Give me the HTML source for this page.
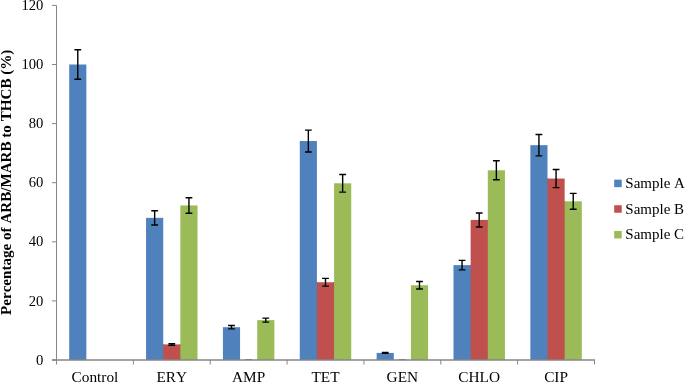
<!DOCTYPE html>
<html lang="en"><head><meta charset="utf-8"><title>Chart</title>
<style>html,body{margin:0;padding:0;background:#fff}svg{display:block}</style></head>
<body>
<svg width="685" height="383" viewBox="0 0 685 383" font-family="'Liberation Serif', 'Times New Roman', serif" font-size="15.33" fill="#000" style="font-kerning:none">
<rect width="685" height="383" fill="#fff"/>
<rect x="162.21" y="344.40" width="2" height="15.60" fill="#4f81bd"/>
<rect x="179.36" y="344.40" width="2" height="15.60" fill="#c0504d"/>
<rect x="315.92" y="282.28" width="2" height="77.72" fill="#4f81bd"/>
<rect x="333.07" y="282.28" width="2" height="77.72" fill="#c0504d"/>
<rect x="469.64" y="265.14" width="2" height="94.86" fill="#4f81bd"/>
<rect x="486.79" y="219.93" width="2" height="140.07" fill="#c0504d"/>
<rect x="546.50" y="178.56" width="2" height="181.44" fill="#4f81bd"/>
<rect x="563.65" y="201.32" width="2" height="158.68" fill="#c0504d"/>
<rect x="69.20" y="64.50" width="17.15" height="295.50" fill="#4f81bd"/>
<rect x="146.06" y="217.86" width="17.15" height="142.14" fill="#4f81bd"/>
<rect x="163.21" y="344.40" width="17.15" height="15.60" fill="#c0504d"/>
<rect x="180.36" y="205.45" width="17.15" height="154.55" fill="#9bbb59"/>
<rect x="222.92" y="327.20" width="17.15" height="32.80" fill="#4f81bd"/>
<rect x="257.22" y="320.11" width="17.15" height="39.89" fill="#9bbb59"/>
<rect x="299.77" y="141.03" width="17.15" height="218.97" fill="#4f81bd"/>
<rect x="316.92" y="282.28" width="17.15" height="77.72" fill="#c0504d"/>
<rect x="334.07" y="183.29" width="17.15" height="176.71" fill="#9bbb59"/>
<rect x="376.63" y="352.91" width="17.15" height="7.09" fill="#4f81bd"/>
<rect x="410.93" y="285.24" width="17.15" height="74.76" fill="#9bbb59"/>
<rect x="453.49" y="265.14" width="17.15" height="94.86" fill="#4f81bd"/>
<rect x="470.64" y="219.93" width="17.15" height="140.07" fill="#c0504d"/>
<rect x="487.79" y="170.29" width="17.15" height="189.71" fill="#9bbb59"/>
<rect x="530.35" y="145.17" width="17.15" height="214.83" fill="#4f81bd"/>
<rect x="547.50" y="178.56" width="17.15" height="181.44" fill="#c0504d"/>
<rect x="564.65" y="201.32" width="17.15" height="158.68" fill="#9bbb59"/>
<path d="M77.78 49.72V79.27M74.38 49.72H81.18M74.38 79.27H81.18" stroke="#000" stroke-width="1.4" fill="none"/>
<path d="M154.64 210.76V224.97M151.24 210.76H158.04M151.24 224.97H158.04" stroke="#000" stroke-width="1.4" fill="none"/>
<path d="M171.79 343.62V345.18M168.39 343.62H175.19M168.39 345.18H175.19" stroke="#000" stroke-width="1.4" fill="none"/>
<path d="M188.94 197.73V213.18M185.54 197.73H192.34M185.54 213.18H192.34" stroke="#000" stroke-width="1.4" fill="none"/>
<path d="M231.49 325.56V328.84M228.09 325.56H234.89M228.09 328.84H234.89" stroke="#000" stroke-width="1.4" fill="none"/>
<path d="M265.79 318.11V322.10M262.39 318.11H269.19M262.39 322.10H269.19" stroke="#000" stroke-width="1.4" fill="none"/>
<path d="M308.35 130.09V151.98M304.95 130.09H311.75M304.95 151.98H311.75" stroke="#000" stroke-width="1.4" fill="none"/>
<path d="M325.50 278.40V286.17M322.10 278.40H328.90M322.10 286.17H328.90" stroke="#000" stroke-width="1.4" fill="none"/>
<path d="M342.65 174.46V192.13M339.25 174.46H346.05M339.25 192.13H346.05" stroke="#000" stroke-width="1.4" fill="none"/>
<path d="M385.21 352.55V353.26M381.81 352.55H388.61M381.81 353.26H388.61" stroke="#000" stroke-width="1.4" fill="none"/>
<path d="M419.51 281.50V288.98M416.11 281.50H422.91M416.11 288.98H422.91" stroke="#000" stroke-width="1.4" fill="none"/>
<path d="M462.06 260.40V269.89M458.66 260.40H465.46M458.66 269.89H465.46" stroke="#000" stroke-width="1.4" fill="none"/>
<path d="M479.21 212.93V226.94M475.81 212.93H482.61M475.81 226.94H482.61" stroke="#000" stroke-width="1.4" fill="none"/>
<path d="M496.36 160.80V179.77M492.96 160.80H499.76M492.96 179.77H499.76" stroke="#000" stroke-width="1.4" fill="none"/>
<path d="M538.92 134.43V155.91M535.52 134.43H542.32M535.52 155.91H542.32" stroke="#000" stroke-width="1.4" fill="none"/>
<path d="M556.07 169.49V187.63M552.67 169.49H559.47M552.67 187.63H559.47" stroke="#000" stroke-width="1.4" fill="none"/>
<path d="M573.22 193.38V209.25M569.82 193.38H576.62M569.82 209.25H576.62" stroke="#000" stroke-width="1.4" fill="none"/>
<path d="M56.5 5.4V364.5" stroke="#868686" stroke-width="1" fill="none"/>
<path d="M52.0 360.0H595.0" stroke="#868686" stroke-width="1.3" fill="none"/>
<path d="M245.24 359.6H252.04" stroke="#5a5a5a" stroke-width="0.8" fill="none" opacity="0.6"/>
<path d="M398.96 359.6H405.76" stroke="#5a5a5a" stroke-width="0.8" fill="none" opacity="0.6"/>
<path d="M52.0 360.00H56.5" stroke="#868686" stroke-width="1" fill="none"/>
<text x="43.4" y="364.60" text-anchor="end" font-size="14.67">0</text>
<path d="M52.0 300.90H56.5" stroke="#868686" stroke-width="1" fill="none"/>
<text x="43.4" y="305.50" text-anchor="end" font-size="14.67">20</text>
<path d="M52.0 241.80H56.5" stroke="#868686" stroke-width="1" fill="none"/>
<text x="43.4" y="246.40" text-anchor="end" font-size="14.67">40</text>
<path d="M52.0 182.70H56.5" stroke="#868686" stroke-width="1" fill="none"/>
<text x="43.4" y="187.30" text-anchor="end" font-size="14.67">60</text>
<path d="M52.0 123.60H56.5" stroke="#868686" stroke-width="1" fill="none"/>
<text x="43.4" y="128.20" text-anchor="end" font-size="14.67">80</text>
<path d="M52.0 64.50H56.5" stroke="#868686" stroke-width="1" fill="none"/>
<text x="43.4" y="69.10" text-anchor="end" font-size="14.67">100</text>
<path d="M52.0 5.40H56.5" stroke="#868686" stroke-width="1" fill="none"/>
<text x="43.4" y="10.00" text-anchor="end" font-size="14.67">120</text>
<path d="M133.36 360.0V364.5" stroke="#868686" stroke-width="1" fill="none"/>
<path d="M210.21 360.0V364.5" stroke="#868686" stroke-width="1" fill="none"/>
<path d="M287.07 360.0V364.5" stroke="#868686" stroke-width="1" fill="none"/>
<path d="M363.93 360.0V364.5" stroke="#868686" stroke-width="1" fill="none"/>
<path d="M440.79 360.0V364.5" stroke="#868686" stroke-width="1" fill="none"/>
<path d="M517.64 360.0V364.5" stroke="#868686" stroke-width="1" fill="none"/>
<path d="M594.50 360.0V364.5" stroke="#868686" stroke-width="1" fill="none"/>
<text x="94.93" y="382" text-anchor="middle">Control</text>
<text x="171.79" y="382" text-anchor="middle">ERY</text>
<text x="248.64" y="382" text-anchor="middle">AMP</text>
<text x="325.50" y="382" text-anchor="middle">TET</text>
<text x="402.36" y="382" text-anchor="middle">GEN</text>
<text x="479.21" y="382" text-anchor="middle">CHLO</text>
<text x="556.07" y="382" text-anchor="middle">CIP</text>
<text transform="translate(11 182.3) rotate(-90)" text-anchor="middle" font-weight="bold" font-size="15.1">Percentage of ARB/MARB to THCB (%)</text>
<rect x="614.2" y="179.65" width="7.5" height="7.5" fill="#4f81bd"/>
<text x="625.3" y="187.95" font-size="15">Sample A</text>
<rect x="614.2" y="205.25" width="7.5" height="7.5" fill="#c0504d"/>
<text x="625.3" y="213.55" font-size="15">Sample B</text>
<rect x="614.2" y="230.95" width="7.5" height="7.5" fill="#9bbb59"/>
<text x="625.3" y="239.25" font-size="15">Sample C</text>
</svg>
</body></html>
